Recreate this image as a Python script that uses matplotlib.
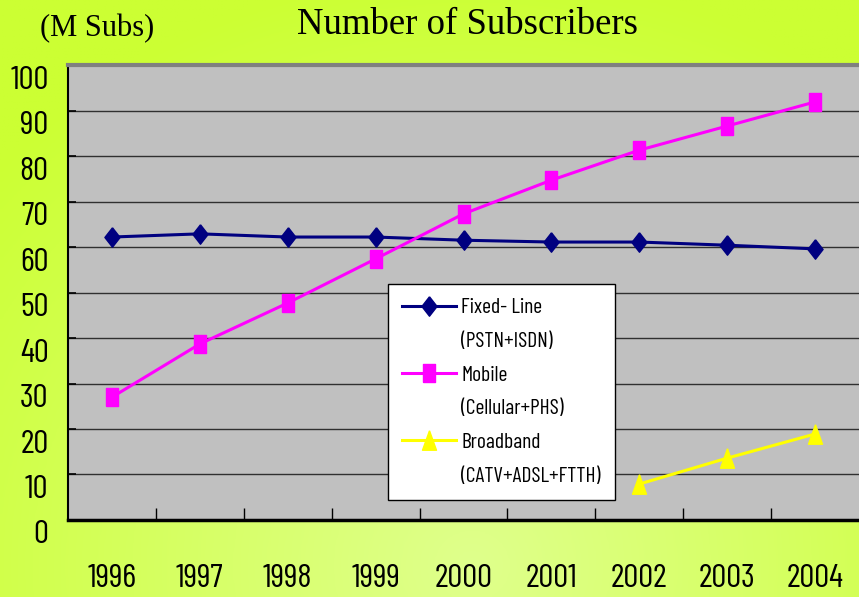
import numpy as np
import matplotlib
matplotlib.use("Agg")
import matplotlib.pyplot as plt
from matplotlib.lines import Line2D
from matplotlib.transforms import ScaledTranslation

years = ["1996", "1997", "1998", "1999", "2000", "2001", "2002", "2003", "2004"]
fixed_line = [62.2, 62.9, 62.2, 62.2, 61.5, 61.1, 61.1, 60.4, 59.6]
mobile = [27.0, 38.7, 47.7, 57.4, 67.3, 74.7, 81.3, 86.6, 91.9]
broadband_years = ["2002", "2003", "2004"]
broadband = [7.9, 13.6, 18.9]
y_ticks = [0, 10, 20, 30, 40, 50, 60, 70, 80, 90, 100]

sans = ["Barlow Condensed", "Liberation Sans", "DejaVu Sans"]
serif = ["Liberation Serif", "DejaVu Serif"]

fig = plt.figure(figsize=(8.59, 5.97), dpi=100)

# background gradient, lighter towards the bottom middle
bg = fig.add_axes([0, 0, 1, 1], zorder=-10)
gx, gy = np.meshgrid(np.linspace(0, 1, 200), np.linspace(0, 1, 200))
d = np.sqrt(((gx - 0.55) / 0.75) ** 2 + ((gy - 0.05) / 1.0) ** 2)
t = np.clip(d, 0, 1)[..., None]
light = np.array([0.875, 1.0, 0.55])
dark = np.array([0.80, 1.0, 0.20])
bg.imshow(light * (1 - t) + dark * t, origin="lower", extent=[0, 1, 0, 1], aspect="auto")
bg.axis("off")

ax = fig.add_axes([0.0792, 0.129, 0.9208, 0.762])
ax.set_facecolor("#c0c0c0")

x = np.arange(len(years))
bx = [years.index(y) for y in broadband_years]

diamond = [(0, 1), (0.78, 0), (0, -1), (-0.78, 0), (0, 1)]
rect = [(-0.7, -1), (0.7, -1), (0.7, 1), (-0.7, 1), (-0.7, -1)]
tri = [(0, 1), (0.72, -1), (-0.72, -1), (0, 1)]

ax.plot(x, fixed_line, color="#000080", lw=2.2, marker=diamond, ms=14, zorder=3)
ax.plot(x, mobile, color="#ff00ff", lw=2.2, marker=rect, ms=13, zorder=3)
ax.plot(bx, broadband, color="#ffff00", lw=2.2, marker=tri, ms=14, zorder=3)

ax.set_xlim(-0.5, len(years) - 0.5)
ax.set_ylim(0, 100)
ax.set_yticks(y_ticks)
ax.set_yticklabels([str(v) for v in y_ticks], family=sans, fontsize=24)
ax.yaxis.grid(True, color="#303030", lw=1)
ax.set_axisbelow(True)

ax.set_xticks(x)
ax.set_xticklabels(years, family=sans, fontsize=24)
ax.set_xticks(np.arange(0.5, len(years) - 1, 1), minor=True)
ax.tick_params(axis="x", which="major", length=0, pad=32)
ax.tick_params(axis="x", which="minor", direction="in", length=9, width=1, color="black")
ax.tick_params(axis="y", direction="in", length=6, width=1.2, color="black", pad=14)
for lab in ax.get_yticklabels():
    lab.set_transform(lab.get_transform() + ScaledTranslation(0, -12 / 100, fig.dpi_scale_trans))

ax.spines["right"].set_visible(False)
ax.spines["top"].set_color("#808080")
ax.spines["top"].set_linewidth(3)
ax.spines["left"].set_color("black")
ax.spines["left"].set_linewidth(1.5)
ax.spines["bottom"].set_color("black")
ax.spines["bottom"].set_linewidth(2.5)

handles = [
    Line2D([], [], color="#000080", lw=2.2, marker=diamond, ms=14),
    Line2D([], [], color="none"),
    Line2D([], [], color="#ff00ff", lw=2.2, marker=rect, ms=13),
    Line2D([], [], color="none"),
    Line2D([], [], color="#ffff00", lw=2.2, marker=tri, ms=14),
    Line2D([], [], color="none"),
]
labels = ["Fixed- Line", "(PSTN+ISDN)", "Mobile", "(Cellular+PHS)", "Broadband", "(CATV+ADSL+FTTH)"]
leg = ax.legend(handles, labels, loc="upper left", bbox_to_anchor=(0.4046, 0.0519, 0.287, 0.4668),
                mode="expand", prop={"family": sans, "size": 15.5}, frameon=True, fancybox=False,
                edgecolor="black", facecolor="white", framealpha=1, borderpad=0.65,
                borderaxespad=0, labelspacing=0.68, handlelength=2.5, handletextpad=0.25)
leg.get_frame().set_linewidth(1)
leg.set_zorder(5)

fig.text(0.0465, 0.952, "(M Subs)", family=serif, fontsize=22, ha="left", va="center")
fig.text(0.5445, 0.958, "Number of Subscribers", family=serif, fontsize=26.5, ha="center", va="center")

fig.savefig("out.png", dpi=100)
